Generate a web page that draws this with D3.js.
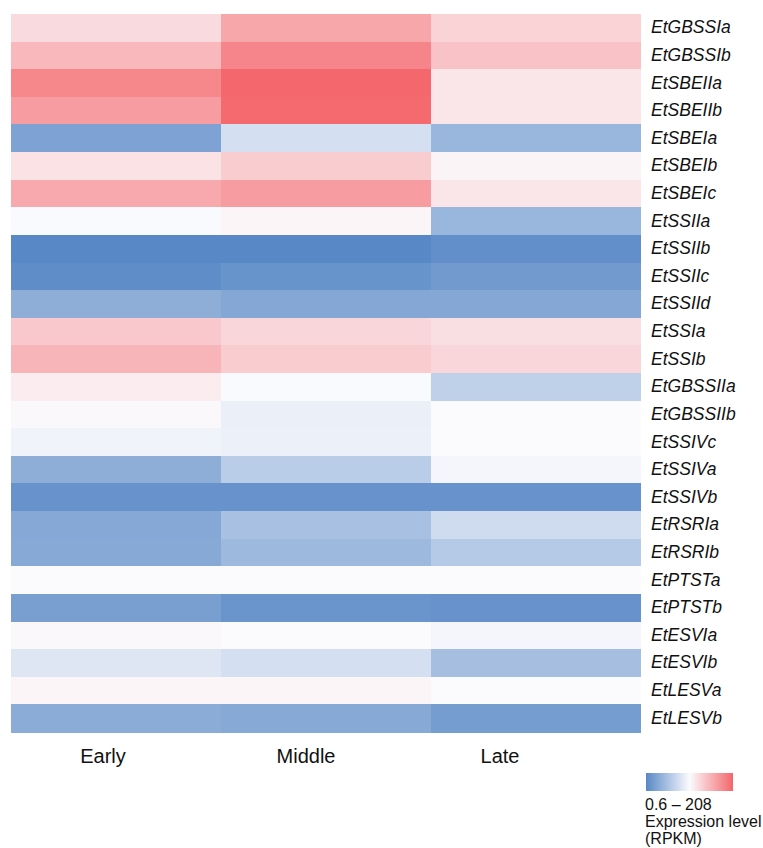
<!doctype html>
<html lang="en">
<head>
    <meta charset="utf-8" />
    <title>Starch gene expression heatmap</title>
    <style>
        body { margin: 0; background: #fff; }
        svg { display: block; font-family: "Liberation Sans", Arial, sans-serif; }
    </style>
</head>
<body>
    <svg id="heatmap"></svg>

    <script src="https://cdn.jsdelivr.net/npm/d3@7"></script>
    <script>
        // stages (columns)
        const stages = ["Early", "Middle", "Late"];
        // genes (rows, top to bottom)
        const genes = [
            "EtGBSSIa", "EtGBSSIb", "EtSBEIIa", "EtSBEIIb", "EtSBEIa", "EtSBEIb", "EtSBEIc",
            "EtSSIIa", "EtSSIIb", "EtSSIIc", "EtSSIId", "EtSSIa", "EtSSIb", "EtGBSSIIa",
            "EtGBSSIIb", "EtSSIVc", "EtSSIVa", "EtSSIVb", "EtRSRIa", "EtRSRIb", "EtPTSTa",
            "EtPTSTb", "EtESVIa", "EtESVIb", "EtLESVa", "EtLESVb"
        ];
        // relative expression, -1 (low, blue) .. 1 (high, red)
        const early  = [0.22, 0.45, 0.78, 0.63, -0.77, 0.17, 0.55, -0.01, -1.00, -0.96, -0.67, 0.34, 0.47,
                        0.10, 0.02, -0.07, -0.67, -0.91, -0.72, -0.71, 0.00, -0.80, 0.02, -0.18, 0.04, -0.69];
        const middle = [0.57, 0.79, 0.99, 0.97, -0.24, 0.31, 0.63, 0.04, -1.00, -0.90, -0.73, 0.25, 0.31,
                        -0.01, -0.10, -0.09, -0.40, -0.91, -0.51, -0.57, 0.01, -0.89, 0.00, -0.24, 0.04, -0.71];
        const late   = [0.27, 0.38, 0.15, 0.15, -0.60, 0.05, 0.14, -0.60, -0.94, -0.84, -0.73, 0.19, 0.25,
                        -0.37, 0.00, 0.00, -0.04, -0.91, -0.27, -0.43, 0.00, -0.91, -0.04, -0.52, 0.00, -0.82];
        const stageLabelShift = [-13, -20, -36];
        const rangeText = "0.6 \u2013 208";

        const width = 763, height = 848;
        const svg = d3.select("#heatmap")
            .attr("width", width)
            .attr("height", height)
            .attr("viewBox", [0, 0, width, height]);

        const x = d3.scaleBand().domain(stages).range([11, 641]);
        const y = d3.scaleBand().domain(genes).range([14, 732]);

        const color = d3.scaleLinear()
            .domain([-1, 0, 1])
            .range(["#5888c6", "#fbfbfe", "#f4666b"])
            .interpolate(d3.interpolateRgb)
            .clamp(true);

        const series = [early, middle, late];
        const cells = [];
        genes.forEach((g, i) => {
            stages.forEach((s, j) => cells.push({gene: g, stage: s, value: series[j][i]}));
        });

        svg.append("g")
            .attr("shape-rendering", "crispEdges")
            .selectAll("rect")
            .data(cells)
            .join("rect")
            .attr("x", d => x(d.stage))
            .attr("y", d => y(d.gene))
            .attr("width", x.bandwidth())
            .attr("height", y.bandwidth() + 0.5)
            .attr("fill", d => color(d.value));

        // gene labels
        svg.append("g")
            .selectAll("text")
            .data(genes)
            .join("text")
            .attr("x", 651)
            .attr("y", d => y(d) + y.bandwidth() / 2 + 5.5)
            .attr("font-size", 17.5)
            .attr("font-style", "italic")
            .attr("fill", "#111")
            .text(d => d);

        // stage labels
        svg.append("g")
            .selectAll("text")
            .data(stages)
            .join("text")
            .attr("x", (d, i) => x(d) + x.bandwidth() / 2 + stageLabelShift[i])
            .attr("y", 763)
            .attr("text-anchor", "middle")
            .attr("font-size", 20)
            .attr("fill", "#111")
            .text(d => d);

        // legend
        const defs = svg.append("defs");
        const grad = defs.append("linearGradient").attr("id", "legend-grad");
        d3.range(0, 1.0001, 0.1).forEach(t => {
            grad.append("stop")
                .attr("offset", `${t * 100}%`)
                .attr("stop-color", color(t * 2 - 1));
        });
        const filter = defs.append("filter").attr("id", "soft");
        filter.append("feGaussianBlur").attr("stdDeviation", 0.7);

        const legendX = d3.scaleLinear().domain([-1, 1]).range([646, 733]);
        svg.append("rect")
            .attr("x", legendX(-1))
            .attr("y", 773)
            .attr("width", legendX(1) - legendX(-1))
            .attr("height", 18)
            .attr("fill", "url(#legend-grad)")
            .attr("filter", "url(#soft)");

        const legendText = svg.append("g")
            .attr("font-size", 16)
            .attr("fill", "#111");
        [rangeText, "Expression level", "(RPKM)"].forEach((t, i) => {
            legendText.append("text")
                .attr("x", 645)
                .attr("y", 810 + i * 17)
                .text(t);
        });
    </script>
</body>
</html>
